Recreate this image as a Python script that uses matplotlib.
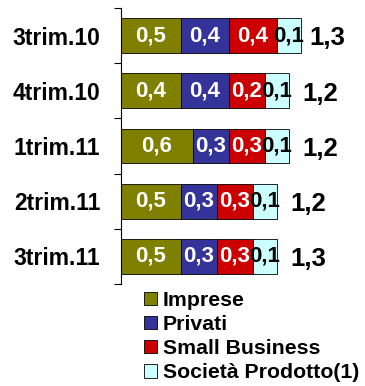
import matplotlib.pyplot as plt
from matplotlib.patches import Patch

# data
periods = ["3trim.10", "4trim.10", "1trim.11", "2trim.11", "3trim.11"]
series = ["Imprese", "Privati", "Small Business", "Società Prodotto(1)"]
imprese = [0.5, 0.5, 0.6, 0.5, 0.5]
privati = [0.4, 0.4, 0.3, 0.3, 0.3]
small_business = [0.4, 0.3, 0.3, 0.3, 0.3]
societa = [0.2, 0.2, 0.2, 0.2, 0.2]
imprese_lbl = ["0,5", "0,4", "0,6", "0,5", "0,5"]
privati_lbl = ["0,4", "0,4", "0,3", "0,3", "0,3"]
small_lbl = ["0,4", "0,2", "0,3", "0,3", "0,3"]
societa_lbl = ["0,1", "0,1", "0,1", "0,1", "0,1"]
totals = ["1,3", "1,2", "1,2", "1,2", "1,3"]

colors = ["#808000", "#333399", "#CC0000", "#CCFFFF"]
text_colors = ["white", "white", "white", "black"]

plt.rcParams["font.family"] = ["Liberation Sans", "DejaVu Sans"]
plt.rcParams["font.weight"] = "bold"

fig = plt.figure(figsize=(3.65, 3.86), dpi=100)
ax = fig.add_axes([121 / 365, 1 - 284 / 386, 244 / 365, 276 / 386])

y = list(range(len(periods)))
left = [0.0] * len(periods)
values = [imprese, privati, small_business, societa]
labels = [imprese_lbl, privati_lbl, small_lbl, societa_lbl]
for vals, lbls, col, tcol in zip(values, labels, colors, text_colors):
    ax.barh(y, vals, left=left, height=0.63, color=col, edgecolor="black", linewidth=0.6)
    for i, (v, l) in enumerate(zip(vals, lbls)):
        ax.text(left[i] + v / 2, i, l, ha="center", va="center",
                color=tcol, fontsize=16, fontweight="bold")
    left = [a + b for a, b in zip(left, vals)]

# totals sit a bit further out on the lower rows
for i, t in enumerate(totals):
    ax.text(left[i] + 0.07 + 0.04 * (i > 0), i + 0.05, t, ha="left", va="center",
            fontsize=18.5, fontweight="bold")

ax.set_xlim(0, 244 / 120)
ax.set_ylim(4.5, -0.5)
ax.set_yticks(y)
ax.set_yticklabels(periods, fontsize=16.5, fontweight="bold")
ax.tick_params(axis="y", which="major", length=0, pad=15)
ax.set_yticks([i - 0.5 for i in range(len(periods) + 1)], minor=True)
ax.tick_params(axis="y", which="minor", length=5, width=0.8, direction="out")
ax.set_xticks([])
for s in ["top", "right", "bottom"]:
    ax.spines[s].set_visible(False)
ax.spines["left"].set_linewidth(0.8)
ax.patch.set_alpha(0)

handles = [Patch(facecolor=c, edgecolor="black", linewidth=0.6) for c in colors]
fig.legend(handles, series, loc="upper left", bbox_to_anchor=(144 / 365, 1 - 291 / 386),
           frameon=False, prop={"size": 15.3, "weight": "bold"},
           handlelength=0.6, handleheight=0.6, handletextpad=0.3,
           labelspacing=0.24, borderaxespad=0, borderpad=0)

fig.savefig("out.png", dpi=100)
